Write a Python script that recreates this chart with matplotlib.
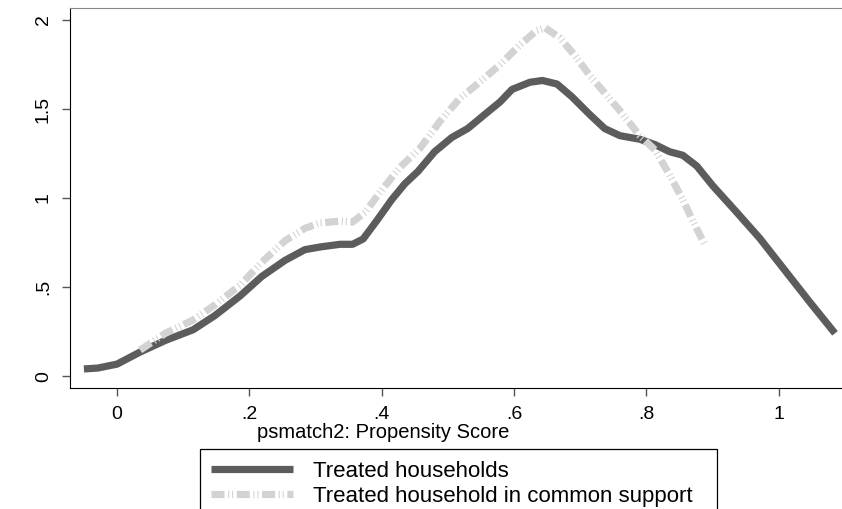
import matplotlib
matplotlib.use("Agg")
import matplotlib.pyplot as plt

# Treated households (full sample)
treated_x = [-0.05, -0.029, 0.0, 0.035, 0.073, 0.115, 0.148, 0.186, 0.219, 0.254,
             0.284, 0.307, 0.337, 0.356, 0.372, 0.394, 0.415, 0.435, 0.455, 0.48,
             0.506, 0.53, 0.556, 0.579, 0.597, 0.624, 0.643, 0.665, 0.687, 0.714,
             0.737, 0.76, 0.79, 0.813, 0.835, 0.855, 0.876, 0.9, 0.934, 0.971,
             1.009, 1.047, 1.085]
treated_y = [0.04, 0.045, 0.067, 0.135, 0.20, 0.26, 0.34, 0.45, 0.56, 0.65,
             0.71, 0.725, 0.74, 0.74, 0.77, 0.88, 0.99, 1.08, 1.15, 1.26,
             1.34, 1.39, 1.47, 1.54, 1.61, 1.65, 1.66, 1.64, 1.57, 1.47,
             1.39, 1.35, 1.33, 1.30, 1.26, 1.24, 1.18, 1.07, 0.93, 0.775,
             0.595, 0.415, 0.24]

# Treated households in common support
support_x = [0.035, 0.073, 0.115, 0.148, 0.186, 0.219, 0.254, 0.284, 0.307, 0.337,
             0.356, 0.375, 0.397, 0.427, 0.458, 0.488, 0.518, 0.548, 0.579, 0.609,
             0.634, 0.647, 0.669, 0.692, 0.714, 0.737, 0.76, 0.79, 0.813, 0.835,
             0.855, 0.873, 0.888]
support_y = [0.146, 0.24, 0.315, 0.40, 0.51, 0.64, 0.76, 0.83, 0.86, 0.87,
             0.865, 0.92, 1.03, 1.17, 1.28, 1.43, 1.56, 1.65, 1.75, 1.86,
             1.94, 1.955, 1.90, 1.80, 1.69, 1.59, 1.49, 1.35, 1.27, 1.13,
             0.99, 0.85, 0.74]

xticks = [0, 0.2, 0.4, 0.6, 0.8, 1.0]
xtick_labels = ["0", ".2", ".4", ".6", ".8", "1"]
yticks = [0, 0.5, 1.0, 1.5, 2.0]
ytick_labels = ["0", ".5", "1", "1.5", "2"]

plt.rcParams['font.family'] = ['Liberation Sans', 'DejaVu Sans']

W, H = 842, 509
fig = plt.figure(figsize=(W / 100, H / 100), dpi=100)
# plot region runs past the right edge of the image, as in the reference
ax = fig.add_axes([70 / W, 1 - 388 / H, 810 / W, 380 / H])

ax.plot(treated_x, treated_y, color='#5c5c5c', lw=5.2, solid_capstyle='butt',
        label='Treated households')
ax.plot(support_x, support_y, color='#d3d3d3', lw=5.2,
        linestyle=(0, (1.8, 0.5, 0.15, 0.4, 0.15, 0.5)), dash_capstyle='butt',
        label='Treated household in common support')

ax.set_xlim(-0.071, 1.153)
ax.set_ylim(-0.067, 2.067)
ax.set_xticks(xticks)
ax.set_xticklabels(xtick_labels)
ax.set_yticks(yticks)
ax.set_yticklabels(ytick_labels, rotation=90, va='center')
ax.tick_params(axis='both', labelsize=14, length=6, width=1, color='#555555', pad=7)

ax.spines['right'].set_visible(False)
ax.spines['top'].set_color('#888888')
ax.spines['left'].set_color('black')
ax.spines['bottom'].set_color('black')

fig.text(383 / W, 1 - 433 / H, "psmatch2: Propensity Score", ha='center', va='center',
         fontsize=14.5)

handles, labels = ax.get_legend_handles_labels()
leg = fig.legend(handles, labels, loc='upper left',
                 bbox_to_anchor=(200 / W, 1 - 450 / H, 517 / W, 0.001), mode='expand',
                 borderaxespad=0, fontsize=16, handlelength=3.7, handletextpad=0.9,
                 labelspacing=0.2, borderpad=0.5,
                 fancybox=False, framealpha=1, edgecolor='black')
leg.get_frame().set_linewidth(0.9)

fig.savefig("out.png", dpi=100)
